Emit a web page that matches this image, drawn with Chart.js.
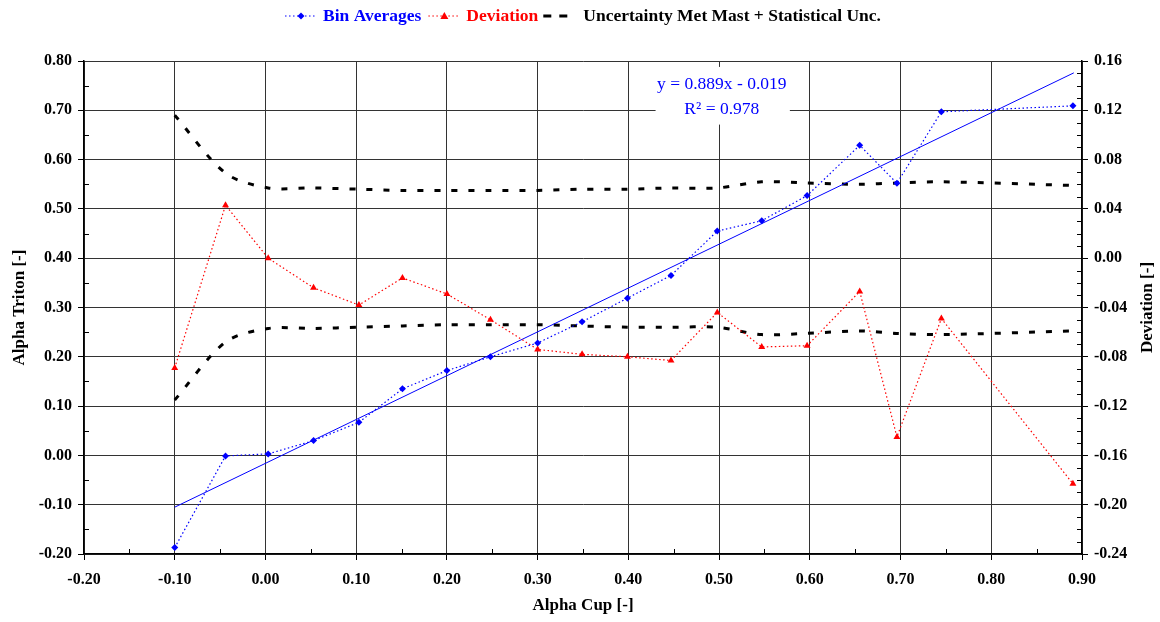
<!DOCTYPE html>
<html lang="en">
<head>
<meta charset="UTF-8">
<title>Alpha Triton vs Alpha Cup</title>
<script src="https://cdn.jsdelivr.net/npm/chart.js@4.4.0/dist/chart.umd.min.js"></script>
<style>
  html, body { margin: 0; padding: 0; background: #fff; }
</style>
</head>
<body>
<canvas id="graph" width="1160" height="622"></canvas>
<script>
// values
const alphaCup = [-0.100, -0.044, 0.003, 0.053, 0.103, 0.151, 0.200, 0.248, 0.300, 0.349, 0.399, 0.447, 0.498, 0.547, 0.597, 0.655, 0.696, 0.745, 0.890];
const binAverages = [-0.187, -0.001, 0.003, 0.030, 0.067, 0.135, 0.172, 0.200, 0.228, 0.271, 0.319, 0.365, 0.455, 0.476, 0.527, 0.629, 0.552, 0.697, 0.709];
const deviation = [-0.089, 0.043, 0.000, -0.024, -0.038, -0.016, -0.029, -0.050, -0.074, -0.078, -0.080, -0.083, -0.044, -0.072, -0.071, -0.027, -0.145, -0.049, -0.183];
const uncertaintyUpper = [0.116, 0.069, 0.057, 0.057, 0.056, 0.055, 0.055, 0.055, 0.055, 0.056, 0.056, 0.057, 0.057, 0.062, 0.061, 0.060, 0.061, 0.062, 0.059];
const uncertaintyLower = [-0.115, -0.068, -0.057, -0.057, -0.056, -0.055, -0.054, -0.054, -0.054, -0.055, -0.056, -0.056, -0.056, -0.062, -0.061, -0.059, -0.061, -0.062, -0.059];
const trendX = [-0.100, 0.891];
const trendY = [-0.105, 0.776];
const trendLabel = ['y = 0.889x - 0.019', 'R\u00B2 = 0.978'];
const legendNames = ['Bin Averages', 'Deviation', 'Uncertainty Met Mast + Statistical Unc.'];

const SERIF = '"Liberation Serif", "Times New Roman", serif';
const BLUE = '#0000ff';
const RED = '#ff0000';
const TICK_FONT = { family: SERIF, size: 16, weight: 'bold' };
const TITLE_FONT = { family: SERIF, size: 17, weight: 'bold' };

function pts(xs, ys) {
  return xs.map((x, i) => ({x: x, y: ys[i]}));
}
function fmt(v) {
  return (Math.round(v * 100) / 100).toFixed(2);
}

// legend icon painters
function drawIcon(g, kind, cx, cy) {
  g.save();
  if (kind === 0 || kind === 1) {
    g.strokeStyle = kind === 0 ? BLUE : RED;
    g.fillStyle = g.strokeStyle;
    g.lineWidth = 1;
    g.setLineDash([1.5, 2.5]);
    g.beginPath(); g.moveTo(cx - 16, cy); g.lineTo(cx + 16, cy); g.stroke();
    g.setLineDash([]);
    g.beginPath();
    if (kind === 0) {
      g.moveTo(cx, cy - 3.5); g.lineTo(cx + 3.5, cy); g.lineTo(cx, cy + 3.5); g.lineTo(cx - 3.5, cy);
    } else {
      g.moveTo(cx, cy - 4); g.lineTo(cx + 4, cy + 3); g.lineTo(cx - 4, cy + 3);
    }
    g.closePath(); g.fill();
  } else {
    g.fillStyle = '#000';
    g.fillRect(cx - 18, cy - 1.5, 8, 3);
    g.fillRect(cx - 2, cy - 1.5, 8, 3);
  }
  g.restore();
}

const extras = {
  id: 'extras',
  beforeDatasetsDraw(chart) {
    const g = chart.ctx;
    const xs = chart.scales.x, ys = chart.scales.y;
    // white box behind the trend line equation
    const x0 = xs.getPixelForValue(0.430), x1 = xs.getPixelForValue(0.578);
    const y0 = ys.getPixelForValue(0.788), y1 = ys.getPixelForValue(0.671);
    g.save();
    g.fillStyle = '#fff';
    g.fillRect(x0, y0, x1 - x0, y1 - y0);
    g.fillStyle = BLUE;
    g.font = '17.5px ' + SERIF;
    g.textAlign = 'center';
    g.textBaseline = 'middle';
    const cx = xs.getPixelForValue(0.503);
    g.fillText(trendLabel[0], cx, ys.getPixelForValue(0.752));
    g.fillText(trendLabel[1], cx, ys.getPixelForValue(0.701));
    g.restore();
  },
  afterDraw(chart) {
    const g = chart.ctx;
    const a = chart.chartArea;
    const xs = chart.scales.x, ys = chart.scales.y, yr = chart.scales.y1;
    g.save();
    // minor ticks, pointing into the plot
    g.strokeStyle = '#000';
    g.lineWidth = 1;
    g.beginPath();
    for (let v = -0.15; v < 0.8; v += 0.1) {
      const p = Math.round(ys.getPixelForValue(v)) + 0.5;
      g.moveTo(a.left, p); g.lineTo(a.left + 5, p);
    }
    for (let v = -0.15; v < 0.9; v += 0.1) {
      const p = Math.round(xs.getPixelForValue(v)) + 0.5;
      g.moveTo(p, a.bottom); g.lineTo(p, a.bottom - 5);
    }
    for (let k = 1; k < 40; k++) {
      if (k % 4 === 0) continue;
      const p = Math.round(yr.getPixelForValue(-0.24 + k * 0.01)) + 0.5;
      g.moveTo(a.right - 5, p); g.lineTo(a.right, p);
    }
    g.stroke();

    // right axis title, reading upwards like the left one
    g.fillStyle = '#000';
    g.font = 'bold 17px ' + SERIF;
    g.textAlign = 'center';
    g.textBaseline = 'middle';
    g.translate(1148, (a.top + a.bottom) / 2);
    g.rotate(-Math.PI / 2);
    g.fillText('Deviation [-]', 0, 0);
    g.setTransform(1, 0, 0, 1, 0, 0);

    // legend row
    g.font = 'bold 17.5px ' + SERIF;
    g.textAlign = 'left';
    const iconW = 32, gap = 6, space = 7;
    const widths = legendNames.map(t => g.measureText(t).width);
    let total = 0;
    widths.forEach(w => { total += iconW + gap + w; });
    total += space * (legendNames.length - 1);
    let x = (a.left + a.right) / 2 - total / 2;
    const ly = 16;
    legendNames.forEach((t, i) => {
      drawIcon(g, i, x + iconW / 2, ly);
      g.fillStyle = i === 0 ? BLUE : (i === 1 ? RED : '#000');
      g.fillText(t, x + iconW + gap, ly);
      x += iconW + gap + widths[i] + space;
    });
    g.restore();
  }
};

const majorGrid = ctx => '#333';

new Chart(document.getElementById('graph').getContext('2d'), {
  type: 'line',
  data: {
    datasets: [
      {
        label: legendNames[0],
        data: pts(alphaCup, binAverages),
        yAxisID: 'y',
        borderColor: BLUE,
        backgroundColor: BLUE,
        borderWidth: 1.2,
        borderDash: [1.5, 2.5],
        pointStyle: 'rectRot',
        pointRadius: 3.5,
        pointBorderWidth: 0,
        tension: 0
      },
      {
        label: legendNames[1],
        data: pts(alphaCup, deviation),
        yAxisID: 'y1',
        borderColor: RED,
        backgroundColor: RED,
        borderWidth: 1.2,
        borderDash: [1.5, 2.5],
        pointStyle: 'triangle',
        pointRadius: 4,
        pointBorderWidth: 0,
        tension: 0
      },
      {
        label: 'trend',
        data: pts(trendX, trendY),
        yAxisID: 'y',
        borderColor: BLUE,
        borderWidth: 1,
        pointRadius: 0,
        tension: 0
      },
      {
        label: legendNames[2],
        data: pts(alphaCup, uncertaintyUpper),
        yAxisID: 'y1',
        borderColor: '#000',
        borderWidth: 3,
        borderDash: [6, 11],
        borderCapStyle: 'butt',
        pointRadius: 0,
        tension: 0.3
      },
      {
        label: 'lower',
        data: pts(alphaCup, uncertaintyLower),
        yAxisID: 'y1',
        borderColor: '#000',
        borderWidth: 3,
        borderDash: [6, 11],
        borderCapStyle: 'butt',
        pointRadius: 0,
        tension: 0.3
      }
    ]
  },
  options: {
    responsive: false,
    animation: false,
    devicePixelRatio: 1,
    layout: { padding: { top: 61, left: 0, right: 0, bottom: 0 } },
    plugins: {
      legend: { display: false },
      tooltip: { enabled: false }
    },
    scales: {
      x: {
        type: 'linear',
        min: -0.2,
        max: 0.9,
        afterFit: s => { s.height = 68; },
        ticks: {
          stepSize: 0.1,
          autoSkip: false,
          maxRotation: 0,
          padding: 10,
          color: '#000',
          font: TICK_FONT,
          callback: v => fmt(v)
        },
        grid: { color: majorGrid, tickColor: '#000', tickLength: 6, lineWidth: 1 },
        border: { color: '#000', width: 1.5 },
        title: {
          display: true,
          text: 'Alpha Cup [-]',
          color: '#000',
          font: TITLE_FONT,
          padding: { top: 0, bottom: 6 }
        }
      },
      y: {
        type: 'linear',
        position: 'left',
        min: -0.2,
        max: 0.8,
        afterFit: s => { s.width = 84; },
        ticks: {
          stepSize: 0.1,
          autoSkip: false,
          padding: 6,
          color: '#000',
          font: TICK_FONT,
          callback: v => fmt(v)
        },
        grid: { color: majorGrid, tickColor: '#000', tickLength: 6, lineWidth: 1 },
        border: { color: '#000', width: 1.5 },
        title: {
          display: true,
          text: 'Alpha Triton [-]',
          color: '#000',
          font: TITLE_FONT,
          padding: { top: 9, bottom: 0 }
        }
      },
      y1: {
        type: 'linear',
        position: 'right',
        min: -0.24,
        max: 0.16,
        afterFit: s => { s.width = 78; },
        ticks: {
          stepSize: 0.04,
          autoSkip: false,
          padding: 6,
          color: '#000',
          font: TICK_FONT,
          callback: v => fmt(v)
        },
        grid: { drawOnChartArea: false, tickColor: '#000', tickLength: 6 },
        border: { color: '#000', width: 1.5 }
      }
    }
  },
  plugins: [extras]
});
</script>
</body>
</html>
